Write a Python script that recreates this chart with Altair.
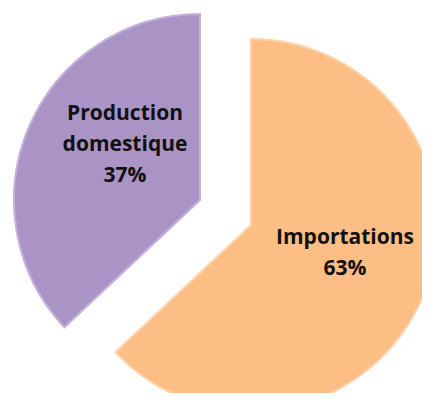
import altair as alt
import pandas as pd

categories = ["Importations", "Production domestique"]
values = [63, 37]

df = pd.DataFrame({"category": categories, "value": values})

base = alt.Chart(df).transform_window(
    cum="sum(value)", sort=[alt.SortField("category")]
).transform_calculate(
    start="datum.cum - datum.value",
    label="datum.category + ' ' + datum.value + '%'",
)

theta = alt.Theta("start:Q", stack=False,
                  scale=alt.Scale(domain=[0, 100], range=[0, 6.283185307179586]))
theta2 = alt.Theta2("cum:Q")

R = 186

def slice_layer(cat, fill, stroke, cx, cy, tx, ty):
    b = base.transform_filter(alt.datum.category == cat)
    arc = b.mark_arc(radius=R, fill=fill, stroke=stroke, strokeWidth=2).encode(
        theta=theta, theta2=theta2, x=alt.value(cx), y=alt.value(cy)
    )
    txt = b.mark_text(
        font="Open Sans", fontSize=21, fontWeight="bold", color="#111111",
        lineBreak=" ", lineHeight=31, align="center", baseline="middle",
    ).encode(text="label:N", x=alt.value(tx), y=alt.value(ty))
    return arc + txt

orange = slice_layer("Importations", "#FDBE85", "#FED3AA", 243, 217, 337, 230)
purple = slice_layer("Production domestique", "#AA93C5", "#C4B2DA", 192, 192, 117, 106)

chart = alt.layer(orange, purple).properties(
    width=414, height=385, padding=0, autosize=alt.AutoSizeParams(type="none")
).configure_view(stroke=None)

chart.save("out.html", embed_options={"renderer": "svg", "actions": False})
